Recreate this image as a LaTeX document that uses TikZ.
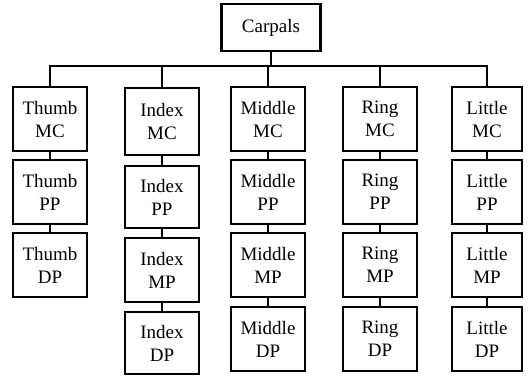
\documentclass[tikz,border=0pt]{standalone}
\usepackage{fontspec}
\setmainfont{Liberation Serif}
\usepackage{tikz}

\tikzset{bone/.style={draw, line width=2.4pt, minimum width=74pt, minimum height=64pt, align=center, inner sep=0pt},
link/.style={line width=2pt}}

\begin{document}
\begin{tikzpicture}[x=1pt, y=-1pt, font=\fontsize{19}{23}\selectfont]
\useasboundingbox (0,0) rectangle (529,376);
\node [bone, minimum width=99pt, minimum height=47pt] (carpals) at (271,27.5) {Carpals};
\coordinate (bus) at (0,66);
% thumb
\node [bone] (thumbMC) at (50,119) {Thumb\\MC};
\node [bone] (thumbPP) at (50,192) {Thumb\\PP};
\node [bone] (thumbDP) at (50,265) {Thumb\\DP};
% index
\node [bone, minimum height=67pt] (indexMC) at (162,121.5) {Index\\MC};
\node [bone, minimum height=62pt] (indexPP) at (162,197) {Index\\PP};
\node [bone] (indexMP) at (162,270) {Index\\MP};
\node [bone, minimum height=62pt] (indexDP) at (162,343) {Index\\DP};
% middle
\node [bone] (middleMC) at (268,119) {Middle\\MC};
\node [bone] (middlePP) at (268,192) {Middle\\PP};
\node [bone] (middleMP) at (268,265) {Middle\\MP};
\node [bone] (middleDP) at (268,339) {Middle\\DP};
% ring
\node [bone] (ringMC) at (380,119) {Ring\\MC};
\node [bone] (ringPP) at (380,192) {Ring\\PP};
\node [bone] (ringMP) at (380,265) {Ring\\MP};
\node [bone] (ringDP) at (380,339) {Ring\\DP};
% little
\node [bone, minimum width=70pt] (littleMC) at (487,119) {Little\\MC};
\node [bone, minimum width=70pt] (littlePP) at (487,192) {Little\\PP};
\node [bone, minimum width=70pt] (littleMP) at (487,265) {Little\\MP};
\node [bone, minimum width=70pt] (littleDP) at (487,339) {Little\\DP};
% connectors
\foreach \f in {thumb,index,middle,ring,little}
\draw [link] (carpals.south) -- (carpals.south |- bus) -| (\f MC.north);
\draw [link] (thumbMC) -- (thumbPP);
\draw [link] (thumbPP) -- (thumbDP);
\foreach \f in {index,middle,ring,little}{
\draw [link] (\f MC) -- (\f PP);
\draw [link] (\f PP) -- (\f MP);
\draw [link] (\f MP) -- (\f DP);
}
\end{tikzpicture}
\end{document}
